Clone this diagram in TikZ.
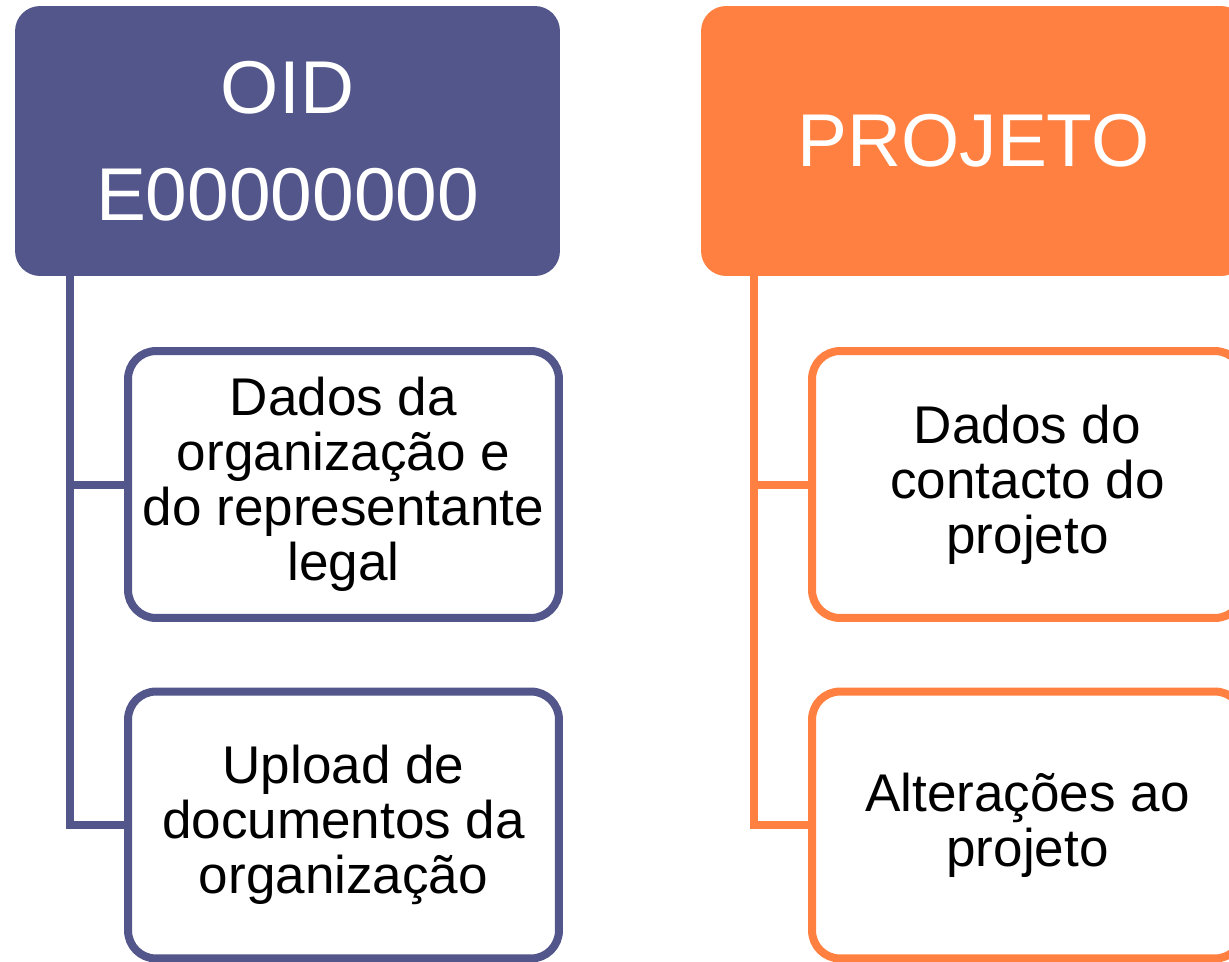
\documentclass[tikz,border=0pt]{standalone}
\usepackage{fontspec}
\setmainfont{Liberation Sans}
\usepackage{tikz}

\definecolor{oidblue}{RGB}{82,86,138}
\definecolor{projorange}{RGB}{255,128,64}

\begin{document}
\begin{tikzpicture}[x=0.02cm,y=-0.02cm,
  headbox/.style={rounded corners=0.5cm,minimum width=10.9cm,minimum height=5.4cm,
    text=white,align=center,font=\fontsize{42.6}{60.7}\selectfont},
  itembox/.style={draw,line width=0.16cm,fill=white,rounded corners=0.56cm,
    minimum width=8.62cm,minimum height=5.34cm,align=center,
    font=\fontsize{30.2}{31.4}\selectfont},
  branch/.style={line width=0.16cm}]

\useasboundingbox (0,0) rectangle (1229,961);
\clip (0,0) rectangle (1229,961);

% OID column
\node[headbox,fill=oidblue] (oid) at (287.5,141) {OID\\E00000000};
\node[itembox,draw=oidblue] (dados) at (343.5,484.5) {Dados da\\organização e\\do representante\\legal};
\node[itembox,draw=oidblue] (upload) at (343.5,825) {Upload de\\documentos da\\organização};
\coordinate (oidtrunk) at (70,276);
\draw[branch,oidblue] (oidtrunk) |- (dados.west);
\draw[branch,oidblue] (oidtrunk) |- (upload.west);

% PROJETO column
\node[headbox,fill=projorange] (projeto) at (973.5,141) {PROJETO};
\node[itembox,draw=projorange] (contacto) at (1027.5,484.5) {Dados do\\contacto do\\projeto};
\node[itembox,draw=projorange] (alteracoes) at (1027.5,825) {Alterações ao\\projeto};
\coordinate (projtrunk) at (754,276);
\draw[branch,projorange] (projtrunk) |- (contacto.west);
\draw[branch,projorange] (projtrunk) |- (alteracoes.west);

\end{tikzpicture}
\end{document}
